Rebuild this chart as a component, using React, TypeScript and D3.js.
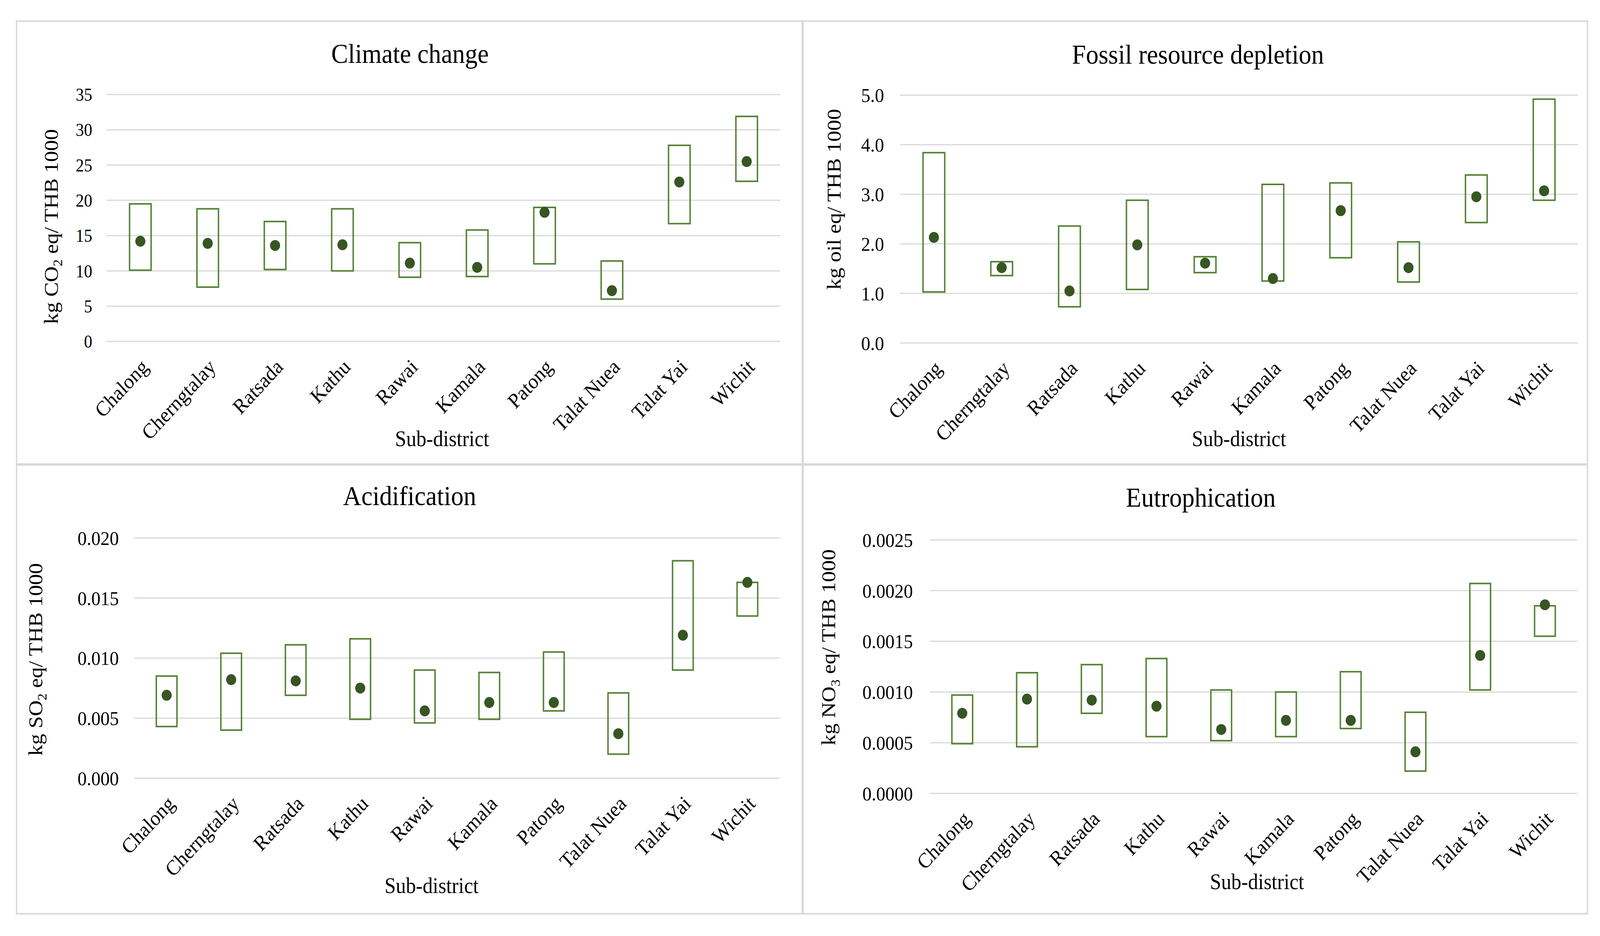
import React from "react";
import * as d3 from "d3";

const categories = ["Chalong", "Cherngtalay", "Ratsada", "Kathu", "Rawai", "Kamala", "Patong", "Talat Nuea", "Talat Yai", "Wichit"];

const climateMin = [10.1, 7.7, 10.2, 10.0, 9.1, 9.2, 11.0, 6.0, 16.7, 22.7];
const climateMax = [19.5, 18.8, 17.0, 18.8, 14.0, 15.8, 19.0, 11.4, 27.8, 31.9];
const climateMean = [14.2, 13.9, 13.6, 13.7, 11.1, 10.5, 18.3, 7.2, 22.6, 25.5];
const climateTicks = [0, 5, 10, 15, 20, 25, 30, 35];

const fossilMin = [1.03, 1.36, 0.73, 1.08, 1.42, 1.25, 1.72, 1.23, 2.43, 2.88];
const fossilMax = [3.84, 1.64, 2.36, 2.88, 1.74, 3.2, 3.23, 2.04, 3.39, 4.92];
const fossilMean = [2.13, 1.52, 1.05, 1.98, 1.61, 1.3, 2.67, 1.52, 2.95, 3.07];
const fossilTicks = [0, 1, 2, 3, 4, 5];

const acidMin = [0.0043, 0.004, 0.0069, 0.0049, 0.0046, 0.0049, 0.0056, 0.002, 0.009, 0.0135];
const acidMax = [0.0085, 0.0104, 0.0111, 0.0116, 0.009, 0.0088, 0.0105, 0.0071, 0.0181, 0.0163];
const acidMean = [0.0069, 0.0082, 0.0081, 0.0075, 0.0056, 0.0063, 0.0063, 0.0037, 0.0119, 0.0163];
const acidTicks = [0, 0.005, 0.01, 0.015, 0.02];

const eutroMin = [0.00049, 0.00046, 0.00079, 0.00056, 0.00052, 0.00056, 0.00064, 0.00022, 0.00102, 0.00155];
const eutroMax = [0.00097, 0.00119, 0.00127, 0.00133, 0.00102, 0.001, 0.0012, 0.0008, 0.00207, 0.00185];
const eutroMean = [0.00079, 0.00093, 0.00092, 0.00086, 0.00063, 0.00072, 0.00072, 0.00041, 0.00136, 0.00186];
const eutroTicks = [0, 0.0005, 0.001, 0.0015, 0.002, 0.0025];

const FONT = "'Liberation Serif', 'Times New Roman', serif";
const GRID = "#d9d9d9";
const BOX = "#548235";
const DOT = "#375623";

type Panel = {
  title: string;
  labelPre: string;
  labelSub: string;
  labelPost: string;
  min: number[];
  max: number[];
  mean: number[];
  ticks: number[];
  fmt: string;
  frame: [number, number, number, number];
  px: [number, number];
  py: [number, number];
  tickFont: number;
  tickRight: number;
  titlePos: [number, number];
  yLabelPos: [number, number];
  xLabelPos: [number, number];
};

const panels: Panel[] = [
  {
    title: "Climate change", labelPre: "kg CO", labelSub: "2", labelPost: " eq/ THB 1000",
    min: climateMin, max: climateMax, mean: climateMean, ticks: climateTicks, fmt: "d",
    frame: [46, 54, 2227, 1188], px: [296, 2166], py: [874, 242], tickFont: 46, tickRight: 256,
    titlePos: [1138, 137], yLabelPos: [141, 580], xLabelPos: [1227, 1122],
  },
  {
    title: "Fossil resource depletion", labelPre: "kg oil eq/ THB 1000", labelSub: "", labelPost: "",
    min: fossilMin, max: fossilMax, mean: fossilMean, ticks: fossilTicks, fmt: ".1f",
    frame: [2229, 54, 4406, 1188], px: [2498, 4380], py: [878, 243.6], tickFont: 51, tickRight: 2454,
    titlePos: [3325, 139], yLabelPos: [2314, 510], xLabelPos: [3439, 1122],
  },
  {
    title: "Acidification", labelPre: "kg SO", labelSub: "2", labelPost: " eq/ THB 1000",
    min: acidMin, max: acidMax, mean: acidMean, ticks: acidTicks, fmt: ".3f",
    frame: [46, 1190, 2227, 2339], px: [373, 2164], py: [1992, 1377], tickFont: 51, tickRight: 330,
    titlePos: [1137, 1269], yLabelPos: [97, 1688], xLabelPos: [1198, 2266],
  },
  {
    title: "Eutrophication", labelPre: "kg NO", labelSub: "3", labelPost: " eq/ THB 1000",
    min: eutroMin, max: eutroMax, mean: eutroMean, ticks: eutroTicks, fmt: ".4f",
    frame: [2229, 1190, 4406, 2339], px: [2581, 4378], py: [2031, 1382], tickFont: 51, tickRight: 2534,
    titlePos: [3333, 1273], yLabelPos: [2299, 1657], xLabelPos: [3489, 2256],
  },
];

function PanelView({ p }: { p: Panel }) {
  const x = d3.scaleBand<string>().domain(categories).range(p.px).padding(0);
  const ext = d3.extent(p.ticks) as [number, number];
  const y = d3.scaleLinear().domain(ext).range(p.py);
  const fmt = d3.format(p.fmt);
  const bw = x.bandwidth() * 0.32;
  const [fx0, fy0, fx1, fy1] = p.frame;
  return (
    <g>
      <rect x={fx0} y={fy0} width={fx1 - fx0} height={fy1 - fy0} fill="#fff" stroke={GRID} strokeWidth={4} />
      <text x={p.titlePos[0]} y={p.titlePos[1]} dy="0.35em" textAnchor="middle" fontFamily={FONT} fontSize={70} fill="#000">
        {p.title}
      </text>
      {p.ticks.map((t) => (
        <g key={t}>
          <line x1={p.px[0]} x2={p.px[1]} y1={y(t)} y2={y(t)} stroke={GRID} strokeWidth={3} />
          <text x={p.tickRight} y={y(t)} dy="0.35em" textAnchor="end" fontFamily={FONT} fontSize={p.tickFont} fill="#000">
            {fmt(t)}
          </text>
        </g>
      ))}
      {categories.map((c, i) => {
        const cx = (x(c) as number) + x.bandwidth() / 2;
        const top = y(p.max[i]);
        const bot = y(p.min[i]);
        return (
          <g key={c}>
            <rect x={cx - bw / 2} y={top} width={bw} height={bot - top} fill="none" stroke={BOX} strokeWidth={4} />
            <circle cx={cx} cy={y(p.mean[i])} r={14} fill={DOT} />
            <text
              transform={`translate(${cx + 12},${p.py[0] + 55}) rotate(-45)`}
              dy="0.35em"
              textAnchor="end"
              fontFamily={FONT}
              fontSize={54}
              fill="#000"
            >
              {c}
            </text>
          </g>
        );
      })}
      <text x={p.xLabelPos[0]} y={p.xLabelPos[1]} dy="0.35em" textAnchor="middle" fontFamily={FONT} fontSize={56} fill="#000">
        Sub-district
      </text>
      <text
        transform={`translate(${p.yLabelPos[0]},${p.yLabelPos[1]}) rotate(-90)`}
        dy="0.35em"
        textAnchor="middle"
        fontFamily={FONT}
        fontSize={56}
        fill="#000"
      >
        {p.labelPre}
        {p.labelSub ? (
          <>
            <tspan fontSize={36} dy={12}>{p.labelSub}</tspan>
            <tspan dy={-12}>{p.labelPost}</tspan>
          </>
        ) : null}
      </text>
    </g>
  );
}

export default function App() {
  return (
    <div style={{ position: "fixed", left: 0, top: 0, width: "100vw", height: "100vh", overflow: "hidden", background: "#fff" }}>
      <svg
        width="100%"
        height="100%"
        viewBox="0 0 4441 2396"
        preserveAspectRatio="none"
        style={{ display: "block", background: "#fff" }}
      >
        <rect x={0} y={0} width={4441} height={2396} fill="#fff" />
        {panels.map((p) => (
          <PanelView key={p.title} p={p} />
        ))}
      </svg>
    </div>
  );
}
